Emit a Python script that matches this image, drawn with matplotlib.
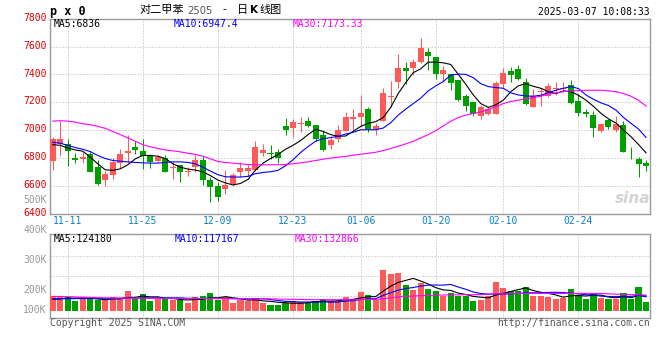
import matplotlib
matplotlib.use("Agg")
import matplotlib.pyplot as plt
from matplotlib.transforms import ScaledTranslation
import numpy as np

plt.rcParams['font.family'] = ['DejaVu Sans Mono', 'Noto Sans CJK SC']

# ---- data (PX2505 daily, 80 sessions) ----
opens = [6779, 6898, 6898, 6800, 6793, 6826, 6736, 6643, 6679, 6764,
         6838, 6881, 6848, 6814, 6779, 6802, 6724, 6748, 6695, 6736,
         6783, 6643, 6600, 6579, 6610, 6695, 6707, 6714, 6836, 6836,
         6843, 7029, 7014, 7043, 7062, 7038, 6962, 6890, 6933, 6995,
         7079, 7095, 7148, 7005, 7067, 7238, 7348, 7448, 7443, 7486,
         7562, 7526, 7400, 7400, 7357, 7243, 7200, 7100, 7114, 7114,
         7329, 7424, 7436, 7348, 7162, 7276, 7243, 7293, 7298, 7324,
         7205, 7133, 7105, 6990, 7071, 7000, 7033, 6820, 6790, 6762]
highs = [6952, 7062, 6938, 6838, 6843, 6843, 6783, 6707, 6802, 6867,
         6962, 6921, 6933, 6831, 6819, 6821, 6767, 6748, 6731, 6819,
         6814, 6660, 6629, 6712, 6690, 6767, 6755, 6921, 6898, 6890,
         6862, 7086, 7076, 7090, 7095, 7038, 6995, 6960, 7038, 7133,
         7148, 7252, 7167, 7048, 7305, 7352, 7548, 7490, 7507, 7662,
         7590, 7526, 7460, 7400, 7357, 7262, 7200, 7181, 7171, 7352,
         7448, 7452, 7467, 7376, 7293, 7300, 7338, 7343, 7348, 7360,
         7262, 7148, 7138, 7048, 7079, 7100, 7062, 6876, 6805, 6786]
lows = [6714, 6814, 6738, 6764, 6760, 6695, 6607, 6595, 6648, 6729,
        6762, 6831, 6719, 6729, 6767, 6695, 6648, 6629, 6671, 6695,
        6605, 6486, 6490, 6540, 6600, 6660, 6671, 6707, 6810, 6790,
        6762, 6962, 6952, 6983, 7019, 6924, 6852, 6864, 6912, 6990,
        7000, 7019, 6983, 6967, 7062, 7167, 7300, 7333, 7395, 7479,
        7429, 7364, 7348, 7286, 7212, 7138, 7098, 7076, 7110, 7114,
        7305, 7348, 7362, 7181, 7162, 7176, 7238, 7252, 7271, 7190,
        7100, 7090, 6948, 6983, 7005, 6983, 6840, 6793, 6662, 6705]
closes = [6938, 6933, 6850, 6781, 6805, 6700, 6612, 6683, 6767, 6831,
          6850, 6857, 6814, 6767, 6807, 6700, 6731, 6695, 6705, 6783,
          6643, 6590, 6521, 6607, 6676, 6724, 6724, 6879, 6857, 6831,
          6800, 7000, 7055, 7050, 7029, 6933, 6857, 6926, 7000, 7090,
          7095, 7119, 7005, 7029, 7269, 7248, 7448, 7424, 7486, 7590,
          7529, 7400, 7429, 7340, 7219, 7171, 7114, 7162, 7148, 7340,
          7412, 7395, 7369, 7186, 7248, 7281, 7319, 7298, 7302, 7195,
          7119, 7114, 7014, 7043, 7019, 7043, 6845, 6817, 6757, 6743]

ma5 = [6895, 6890, 6871, 6857, 6848, 6805, 6757, 6714, 6710, 6721,
       6750, 6793, 6817, 6817, 6812, 6795, 6757, 6733, 6719, 6712,
       6700, 6672, 6640, 6620, 6605, 6616, 6645, 6712, 6762, 6795,
       6824, 6862, 6890, 6924, 6967, 7005, 6990, 6967, 6955, 6957,
       6990, 7026, 7048, 7060, 7090, 7162, 7262, 7340, 7412, 7440,
       7488, 7488, 7483, 7471, 7400, 7329, 7252, 7190, 7162, 7181,
       7215, 7275, 7318, 7333, 7314, 7300, 7276, 7262, 7281, 7275,
       7250, 7215, 7170, 7120, 7080, 7050, 7000, 6952, 6896, 6836]
ma10 = [6912, 6905, 6890, 6874, 6862, 6845, 6817, 6795, 6781, 6776,
        6771, 6767, 6764, 6762, 6762, 6767, 6771, 6771, 6767, 6757,
        6733, 6705, 6679, 6664, 6662, 6662, 6667, 6686, 6695, 6700,
        6710, 6743, 6786, 6838, 6881, 6919, 6938, 6945, 6955, 6971,
        6983, 7002, 7002, 7002, 7014, 7052, 7107, 7150, 7190, 7229,
        7281, 7317, 7348, 7395, 7402, 7400, 7376, 7333, 7312, 7305,
        7300, 7267, 7252, 7245, 7243, 7250, 7269, 7286, 7300, 7312,
        7298, 7252, 7221, 7195, 7176, 7143, 7090, 7048, 7007, 6947]
ma30 = [7064, 7067, 7064, 7057, 7045, 7038, 7026, 7012, 6990, 6967,
        6943, 6919, 6895, 6879, 6867, 6857, 6850, 6843, 6833, 6824,
        6812, 6793, 6774, 6767, 6762, 6757, 6752, 6750, 6750, 6750,
        6750, 6752, 6757, 6764, 6771, 6781, 6790, 6798, 6805, 6810,
        6819, 6826, 6833, 6840, 6852, 6867, 6883, 6900, 6919, 6943,
        6967, 6995, 7029, 7062, 7090, 7107, 7119, 7131, 7148, 7167,
        7190, 7205, 7214, 7224, 7233, 7243, 7257, 7267, 7276, 7281,
        7283, 7286, 7286, 7286, 7281, 7276, 7262, 7243, 7214, 7173]

# volume in thousands of lots
volume = [124, 124, 115.5, 84.5, 98.6, 104, 93, 87, 115.5, 98.6,
          166, 98.6, 141, 82, 98.6, 107, 90, 90, 68, 115.5,
          124, 149, 90, 115, 68, 90, 82, 107, 68, 48,
          48, 68, 82, 70, 73, 82, 98.6, 82, 82, 118,
          98.6, 158, 132, 90, 344, 310, 318, 217, 175, 234,
          183, 166, 124, 149, 124, 124, 82, 90, 124, 242,
          192, 166, 166, 200, 124, 124, 118, 98.6, 107, 183,
          132, 98.6, 141, 107, 98.6, 98.6, 149, 98.6, 200, 73]
vol_ma5 = [95, 100, 108, 106, 109, 105, 99, 93, 100, 100,
           112, 113, 124, 117, 117, 105, 104, 94, 91, 94,
           97.5, 109, 109, 119, 109, 102, 89, 92, 83, 79,
           71, 68, 63, 63, 68, 75, 81, 81, 84, 93,
           96, 108, 118, 119, 165, 207, 239, 256, 273, 251,
           225, 195, 176, 171, 149, 137, 121, 114, 109, 132,
           146, 163, 178, 193, 170, 156, 146, 133, 114, 126,
           128, 124, 132, 132, 115, 109, 119, 110, 129, 124.18]
vol_ma10 = [100, 101, 101, 102, 103, 104, 104, 101, 101, 104.5,
            108.5, 106, 108.5, 108.5, 108.5, 108.5, 108.5, 109, 104, 105.5,
            101, 106.5, 101.5, 105, 101.5, 100, 99, 100.5, 101, 94,
            86.5, 78.5, 77.5, 73, 73.5, 73, 74.5, 72, 73.5, 80.5,
            85.5, 94.5, 99.5, 101.5, 129, 151.5, 173.5, 187, 196, 208,
            216, 217, 216, 222, 200, 181, 158, 145, 140, 140.5,
            141.5, 142, 146, 151, 151, 151, 154.5, 155.5, 153.5, 148,
            142, 135, 132.5, 123, 120.5, 118.5, 121.5, 121, 130.5, 117.17]
vol_ma30 = [121, 120, 118, 116, 114, 112, 110, 109, 108, 107,
            107, 106, 106, 105, 105, 104, 104, 103, 103, 103,
            103, 103, 103, 102, 102, 101, 101, 100, 100, 100,
            99, 97, 96, 95, 94, 93, 93, 93, 93, 93,
            92, 94, 95, 95, 101, 109, 116, 121, 124, 127,
            129, 132, 132, 134, 134, 135, 135, 136, 138, 143,
            141, 143, 145, 146, 146, 146, 146, 146, 146, 146,
            146, 146, 146, 146, 142, 140, 138, 136, 134, 132.87]

tick_idx = [2, 12, 22, 32, 41, 51, 60, 70]
tick_labels = ['11-11', '11-25', '12-09', '12-23', '01-06', '01-20', '02-10', '02-24']
price_ticks = [6400, 6600, 6800, 7000, 7200, 7400, 7600, 7800]
vol_labels = ['500K', '400K', '300K', '200K', '100K']

# ---- style ----
RED = '#ff5a5a'
GREEN = '#009f00'
GRID = '#b4b4b4'
BORDER = '#9a9a9a'
W, H = 660, 360


def fx(x):
    return x / W


def fy(y):
    return 1 - y / H


fig = plt.figure(figsize=(6.6, 3.6), dpi=100)
ax = fig.add_axes([fx(50), fy(213.5), 600 / W, (213.5 - 18.7) / H])
axv = fig.add_axes([fx(50), fy(318.3), 600 / W, 84 / H])

x = np.arange(len(closes))
o = np.array(opens)
c = np.array(closes)
col = np.where(c >= o, RED, GREEN)

# candles
ax.vlines(x, lows, highs, colors=col, lw=0.75, zorder=3)
ax.bar(x, np.maximum(np.abs(c - o), 6), bottom=np.minimum(o, c), width=0.8,
       color=col, lw=0, zorder=3)
ax.plot(x, ma5, color='black', lw=0.8, zorder=4)
ax.plot(x, ma10, color='#0000ff', lw=0.8, zorder=4)
ax.plot(x, ma30, color='#ff00ff', lw=0.8, zorder=4)

xl = (-0.36, 79.53)
ax.set_xlim(*xl)
ax.set_ylim(6400, 7800)
ax.set_yticks(price_ticks)
ax.set_yticklabels([str(p) for p in price_ticks], color='#e00000', fontsize=7)
ax.set_xticks(tick_idx)
ax.set_xticklabels(tick_labels, color='#0a80cc', fontsize=7)
ax.tick_params(length=0, pad=2)
ax.grid(True, color=GRID, ls=(0, (1, 2)), lw=0.72)
# sina prints price labels a touch above their grid lines
up = ScaledTranslation(0, 0.017, fig.dpi_scale_trans)
for lab in ax.get_yticklabels():
    lab.set_transform(lab.get_transform() + up)

# volume
VOL_PX = 8.45  # thousand lots per pixel
axv.bar(x, volume, width=0.82, color=col, lw=0, zorder=3)
axv.plot(x, vol_ma5, color='black', lw=0.8, zorder=4)
axv.plot(x, vol_ma10, color='#0000ff', lw=0.8, zorder=4)
axv.plot(x, vol_ma30, color='#ff00ff', lw=0.8, zorder=4)
axv.set_xlim(*xl)
axv.set_ylim(-7.6 * VOL_PX, 76.4 * VOL_PX)
axv.set_xticks(tick_idx)
axv.set_xticklabels([])
axv.set_yticks([])
axv.tick_params(length=0)
axv.grid(True, axis='x', color=GRID, ls=(0, (1, 2)), lw=0.72)
for gy in (15, 35, 55):
    axv.axhline(gy * VOL_PX, color=GRID, ls=(0, (1, 2)), lw=0.72, zorder=1)

for a in (ax, axv):
    for s in a.spines.values():
        s.set_color(BORDER)
        s.set_linewidth(1.0)

# volume scale labels (sina places them loosely)
for lab, yy in zip(vol_labels, [200.3, 230.5, 260.3, 290, 310.3]):
    fig.text(fx(46.5), fy(yy), lab, ha='right', va='center', color='#999999', fontsize=7)

# header
fig.text(fx(50.5), fy(11), 'p x 0', fontsize=8.5, fontweight='bold', va='center')
cjk = ['Noto Sans CJK SC', 'DejaVu Sans']
fig.text(fx(139.5), fy(10), '对二甲苯', family=cjk, fontsize=8, va='center')
fig.text(fx(187.5), fy(10.5), '2505', family=['DejaVu Sans'], fontsize=7.2,
         color='#555555', va='center')
fig.text(fx(222.5), fy(10), '-', family=cjk, fontsize=8, va='center')
fig.text(fx(237), fy(10), '日', family=cjk, fontsize=8, va='center')
fig.text(fx(250), fy(10), 'K', family=['DejaVu Sans'], fontsize=7.5,
         fontweight='bold', va='center')
fig.text(fx(260), fy(10), '线图', family=cjk, fontsize=8, va='center')
fig.text(fx(650), fy(12), '2025-03-07 10:08:33', ha='right', va='center', fontsize=7)

fig.text(fx(54), fy(24), 'MA5:6836', va='center', fontsize=7, color='black')
fig.text(fx(174), fy(24), 'MA10:6947.4', va='center', fontsize=7, color='#0000ff')
fig.text(fx(293), fy(24), 'MA30:7173.33', va='center', fontsize=7, color='#ff00ff')
fig.text(fx(54), fy(239), 'MA5:124180', va='center', fontsize=7, color='black')
fig.text(fx(175), fy(239), 'MA10:117167', va='center', fontsize=7, color='#0000ff')
fig.text(fx(295), fy(239), 'MA30:132866', va='center', fontsize=7, color='#ff00ff')

fig.text(fx(50), fy(323.5), 'Copyright 2025 SINA.COM', va='center', fontsize=7, color='#555555')
fig.text(fx(650), fy(323.5), 'http://finance.sina.com.cn', ha='right', va='center',
         fontsize=7, color='#555555')

# faint watermark
fig.text(fx(633), fy(198), 'sina', family=['DejaVu Sans'], ha='center', va='center',
         fontsize=11, fontweight='bold', style='italic', color='#c8c8c8', alpha=0.8)

fig.savefig('out.png', dpi=100)
